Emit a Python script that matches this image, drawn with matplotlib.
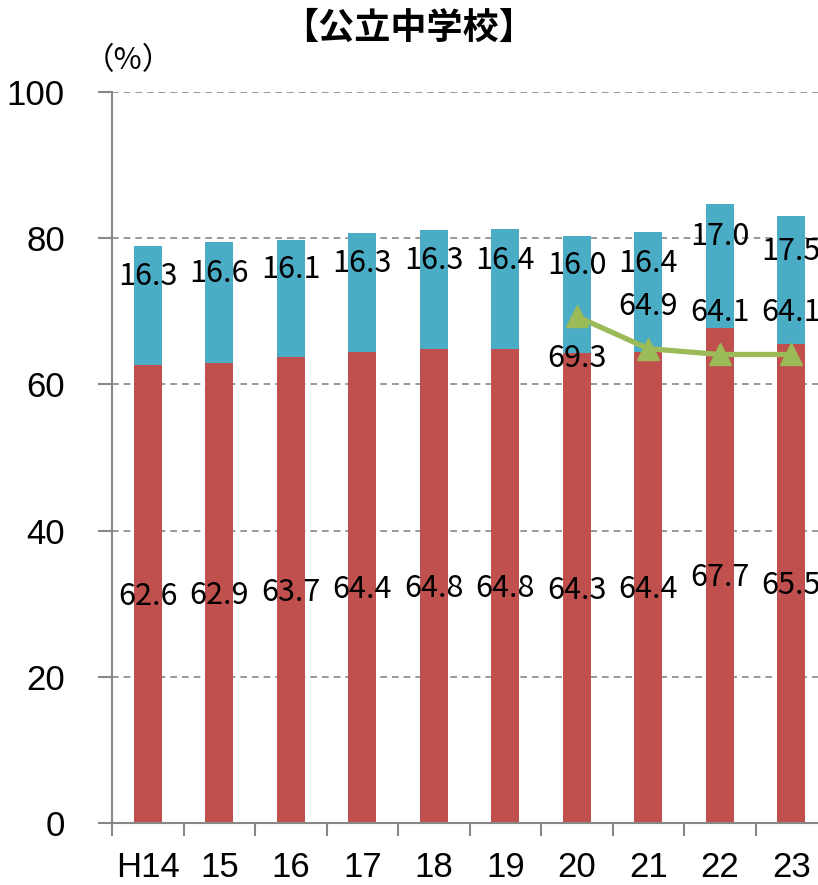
import matplotlib
matplotlib.use('Agg')
import matplotlib.pyplot as plt
import numpy as np

years = ['H14', '15', '16', '17', '18', '19', '20', '21', '22', '23']
red_vals = [62.6, 62.9, 63.7, 64.4, 64.8, 64.8, 64.3, 64.4, 67.7, 65.5]
blue_vals = [16.3, 16.6, 16.1, 16.3, 16.3, 16.4, 16.0, 16.4, 17.0, 17.5]
line_idx = [6, 7, 8, 9]
line_vals = [69.3, 64.9, 64.1, 64.1]
line_label_offset = [-5.7, 5.7, 5.7, 5.7]

RED = '#C0504D'
BLUE = '#4BACC6'
GREEN = '#9BBB59'

plt.rcParams['font.family'] = ['Noto Sans CJK JP', 'DejaVu Sans']

fig = plt.figure(figsize=(8.18, 8.85), dpi=100)
ax = fig.add_axes([0.137, 0.070, 0.874, 0.826])

x = np.arange(len(years))
red = np.array(red_vals)
blue = np.array(blue_vals)
ax.bar(x, red, width=0.39, color=RED, zorder=2)
ax.bar(x, blue, width=0.39, bottom=red, color=BLUE, zorder=2)
ax.plot(line_idx, line_vals, color=GREEN, lw=3.8, marker='^', ms=16, zorder=3)

lab_font = dict(fontsize=22, ha='center', va='center', zorder=4,
                family=['Noto Sans CJK JP', 'DejaVu Sans'])
for i in x:
    ax.text(i, red[i] / 2 - 0.3, f'{red[i]:.1f}', **lab_font)
    ax.text(i, red[i] + blue[i] / 2 + 4.0, f'{blue[i]:.1f}', **lab_font)
for i, v, off in zip(line_idx, line_vals, line_label_offset):
    ax.text(i, v + off, f'{v:.1f}', **lab_font)

ax.set_ylim(0, 100)
ax.set_xlim(-0.5, 9.5)
ax.set_yticks([0, 20, 40, 60, 80, 100])
ax.grid(axis='y', color='#888888', ls=(0, (4, 3)), lw=1.2, zorder=0)
ax.set_axisbelow(True)

ax.set_xticks(x)
ax.set_xticklabels(years)
ax.set_xticks(np.arange(-0.5, 9.6, 1), minor=True)
ax.tick_params(axis='x', which='major', length=0, pad=20, labelsize=25)
ax.tick_params(axis='x', which='minor', length=9, width=1.5, color='#888888', direction='out')
ax.tick_params(axis='y', length=10, width=1.5, color='#888888', pad=24, labelsize=25)
for lab in ax.get_xticklabels() + ax.get_yticklabels():
    lab.set_family(['Liberation Sans', 'DejaVu Sans'])

for s in ['top', 'right']:
    ax.spines[s].set_visible(False)
for s in ['left', 'bottom']:
    ax.spines[s].set_color('#888888')
    ax.spines[s].set_linewidth(1.5)

fig.text(0.5, 0.968, '【公立中学校】', fontsize=26, fontweight='bold',
         ha='center', va='center')
fig.text(0.157, 0.932, '（%）', fontsize=22, ha='center', va='center')

plt.savefig('out.png', dpi=100)
plt.close()
